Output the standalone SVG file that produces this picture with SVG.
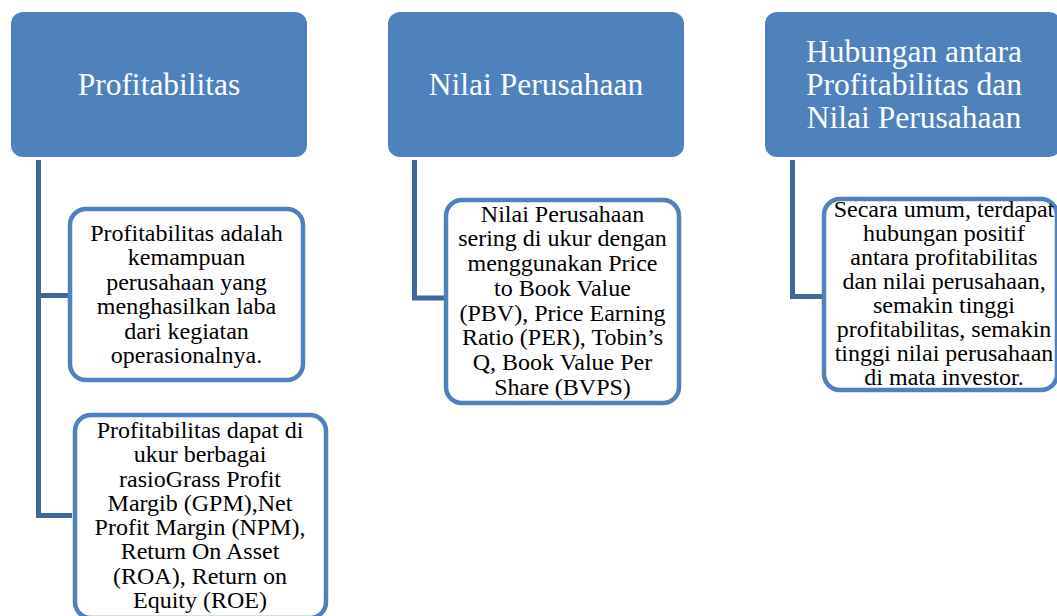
<svg xmlns="http://www.w3.org/2000/svg" width="1057" height="616" viewBox="0 0 1057 616">
<style>
.hd{fill:#4F81BD;}
.ht{font-family:"Liberation Serif","Times New Roman",serif;font-size:31.5px;fill:#FFFFFF;text-anchor:middle;}
.ch{fill:#FFFFFF;stroke:#4F81BD;stroke-width:4.5;}
.ct{font-family:"Liberation Serif","Times New Roman",serif;font-size:24px;fill:#000000;text-anchor:middle;}
.cn{fill:none;stroke:#3F6898;stroke-width:5;stroke-linejoin:miter;}
</style>
<rect width="1057" height="616" fill="#FFFFFF"/>
<g id="connectors">
<path class="cn" d="M38.5,160 V515.5 H72"/>
<path class="cn" d="M38.5,295.5 H68"/>
<path class="cn" d="M414.5,160 V298 H444"/>
<path class="cn" d="M792.5,160 V296.5 H822"/>
</g>
<g id="node-profitabilitas">
<rect class="hd" x="11" y="12" width="296" height="145" rx="12"/>
<text class="ht" x="159" y="95">Profitabilitas</text>
</g>
<g id="node-nilai">
<rect class="hd" x="388" y="12" width="296" height="145" rx="12"/>
<text class="ht" x="536" y="95">Nilai Perusahaan</text>
</g>
<g id="node-hubungan">
<rect class="hd" x="765" y="12" width="296" height="145" rx="12"/>
<text class="ht" x="914" y="62">Hubungan antara</text>
<text class="ht" x="914" y="95">Profitabilitas dan</text>
<text class="ht" x="914" y="128">Nilai Perusahaan</text>
</g>
<g id="node-prof-def">
<rect class="ch" x="70" y="209" width="233" height="171" rx="16"/>
<text class="ct" x="186.5" y="240.7">Profitabilitas adalah</text>
<text class="ct" x="186.5" y="265.2">kemampuan</text>
<text class="ct" x="186.5" y="289.7">perusahaan yang</text>
<text class="ct" x="186.5" y="314.1">menghasilkan laba</text>
<text class="ct" x="186.5" y="338.6">dari kegiatan</text>
<text class="ct" x="186.5" y="363">operasionalnya.</text>
</g>
<g id="node-prof-ukur">
<rect class="ch" x="75" y="415" width="251" height="203" rx="16"/>
<text class="ct" x="200" y="438">Profitabilitas dapat di</text>
<text class="ct" x="200" y="462.3">ukur berbagai</text>
<text class="ct" x="200" y="486.6">rasioGrass Profit</text>
<text class="ct" x="200" y="510.9">Margib (GPM),Net</text>
<text class="ct" x="200" y="535.1">Profit Margin (NPM),</text>
<text class="ct" x="200" y="559.4">Return On Asset</text>
<text class="ct" x="200" y="583.7">(ROA), Return on</text>
<text class="ct" x="200" y="608">Equity (ROE)</text>
</g>
<g id="node-nilai-ukur">
<rect class="ch" x="446" y="200" width="233" height="203" rx="16"/>
<text class="ct" x="562.5" y="221.7">Nilai Perusahaan</text>
<text class="ct" x="562.5" y="246.4">sering di ukur dengan</text>
<text class="ct" x="562.5" y="271.1">menggunakan Price</text>
<text class="ct" x="562.5" y="295.8">to Book Value</text>
<text class="ct" x="562.5" y="320.5">(PBV), Price Earning</text>
<text class="ct" x="562.5" y="345.2">Ratio (PER), Tobin’s</text>
<text class="ct" x="562.5" y="370">Q, Book Value Per</text>
<text class="ct" x="562.5" y="394.7">Share (BVPS)</text>
</g>
<g id="node-hubungan-def">
<rect class="ch" x="824" y="199" width="233" height="191" rx="16"/>
<text class="ct" x="944" y="216.7">Secara umum, terdapat</text>
<text class="ct" x="944" y="240.7">hubungan positif</text>
<text class="ct" x="944" y="264.8">antara profitabilitas</text>
<text class="ct" x="944" y="288.8">dan nilai perusahaan,</text>
<text class="ct" x="944" y="312.9">semakin tinggi</text>
<text class="ct" x="944" y="336.9">profitabilitas, semakin</text>
<text class="ct" x="944" y="361">tinggi nilai perusahaan</text>
<text class="ct" x="944" y="385">di mata investor.</text>
</g>
</svg>
